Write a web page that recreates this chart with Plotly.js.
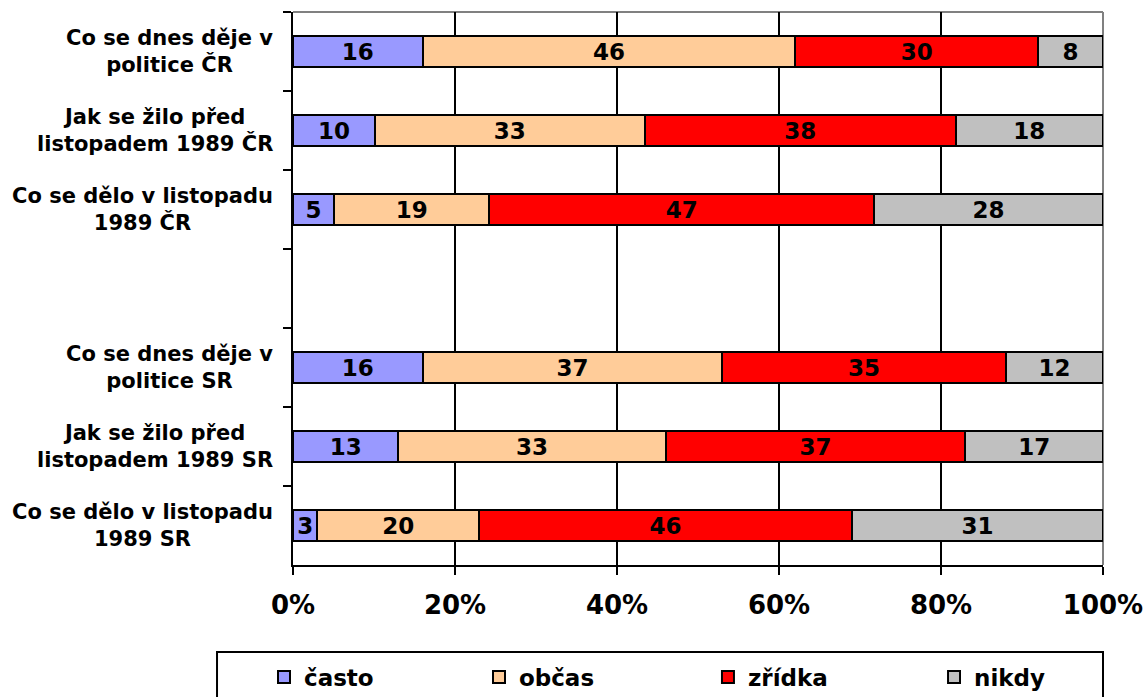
<!DOCTYPE html>
<html>
<head>
<meta charset="utf-8">
<script src="https://cdn.plot.ly/plotly-3.0.1.min.js"></script>
<style>html,body{margin:0;padding:0;background:#fff;}#chart{width:1147px;height:697px;}</style>
</head>
<body>
<div id="chart"></div>
<script>
const categories = [
  "Co se dnes děje v<br>politice ČR",
  "Jak se žilo před<br>listopadem 1989 ČR",
  "Co se dělo v listopadu<br>1989 ČR",
  " ",
  "Co se dnes děje v<br>politice SR",
  "Jak se žilo před<br>listopadem 1989 SR",
  "Co se dělo v listopadu<br>1989 SR"
];
const seriesNames = ["často", "občas", "zřídka", "nikdy"];
const casto  = [16, 10, 5, null, 16, 13, 3];
const obcas  = [46, 33, 19, null, 37, 33, 20];
const zridka = [30, 38, 47, null, 35, 37, 46];
const nikdy  = [8, 18, 28, null, 12, 17, 31];
const xTicks = [0, 20, 40, 60, 80, 100];
const colors = ["#9999FF", "#FFCC99", "#FF0000", "#C0C0C0"];

const FONT = "DejaVu Sans, Verdana, sans-serif";
const values = [casto, obcas, zridka, nikdy];
const legendIds = ["legend", "legend2", "legend3", "legend4"];
const legendX = [-0.0358, 0.2296, 0.5123, 0.7914];

const traces = values.map((v, i) => ({
  type: "bar",
  orientation: "h",
  name: seriesNames[i],
  legend: legendIds[i],
  y: categories,
  x: v,
  text: v.map(d => d === null ? "" : String(d)),
  texttemplate: "%{text}",
  textposition: "inside",
  insidetextanchor: "middle",
  constraintext: "none",
  textangle: 0,
  textfont: {family: FONT, size: 23, color: "#000", weight: "bold"},
  marker: {color: colors[i], line: {color: "#000", width: 2}},
  hoverinfo: "skip"
}));

const annotations = categories.filter(c => c.trim() !== "").map(c => ({
  xref: "paper", yref: "y", x: 0, y: c,
  xanchor: "right", yanchor: "middle", xshift: -18,
  text: c, showarrow: false, align: "center",
  font: {family: FONT, size: 21, color: "#000", weight: "bold"}
}));

const layout = {
  width: 1147, height: 697,
  margin: {l: 293, r: 44, t: 12, b: 132, autoexpand: false},
  paper_bgcolor: "#fff", plot_bgcolor: "#fff",
  barmode: "stack",
  barnorm: "percent",
  bargap: 0.6,
  showlegend: true,
  xaxis: {
    range: [0, 100], tickvals: xTicks, ticktext: xTicks.map(t => t + "%"),
    showgrid: true, gridcolor: "#000", gridwidth: 2,
    zeroline: false, showline: true, linecolor: "#000", linewidth: 2,
    ticks: "outside", ticklen: 8, tickwidth: 2, tickcolor: "#000",
    ticklabelstandoff: 8,
    tickfont: {family: FONT, size: 26, color: "#000", weight: "bold"},
    fixedrange: true
  },
  yaxis: {
    type: "category", categoryarray: categories, categoryorder: "array",
    autorange: "reversed",
    showticklabels: false, showgrid: false, zeroline: false,
    showline: true, linecolor: "#000", linewidth: 2,
    ticks: "outside", tickson: "boundaries", ticklen: 8, tickwidth: 2, tickcolor: "#000",
    fixedrange: true
  },
  shapes: [
    {type: "line", xref: "paper", yref: "paper", x0: 0, x1: 1, y0: 1, y1: 1,
     line: {color: "#808080", width: 2}, layer: "between"},
    {type: "line", xref: "paper", yref: "paper", x0: 1, x1: 1, y0: 0, y1: 1,
     line: {color: "#808080", width: 2}, layer: "between"},
    {type: "rect", xref: "paper", yref: "paper", x0: -0.0938, x1: 1.0, y0: -0.1573, y1: -0.3,
     line: {color: "#000", width: 2}, fillcolor: "rgba(0,0,0,0)", layer: "above"}
  ],
  annotations: annotations
};

legendIds.forEach((id, i) => {
  layout[id] = {
    orientation: "h", x: legendX[i], y: -0.2025, xanchor: "left", yanchor: "middle",
    font: {family: FONT, size: 23, color: "#000", weight: "bold"},
    bgcolor: "rgba(0,0,0,0)", borderwidth: 0
  };
});

Plotly.newPlot("chart", traces, layout, {displayModeBar: false, staticPlot: true});
</script>
</body>
</html>
